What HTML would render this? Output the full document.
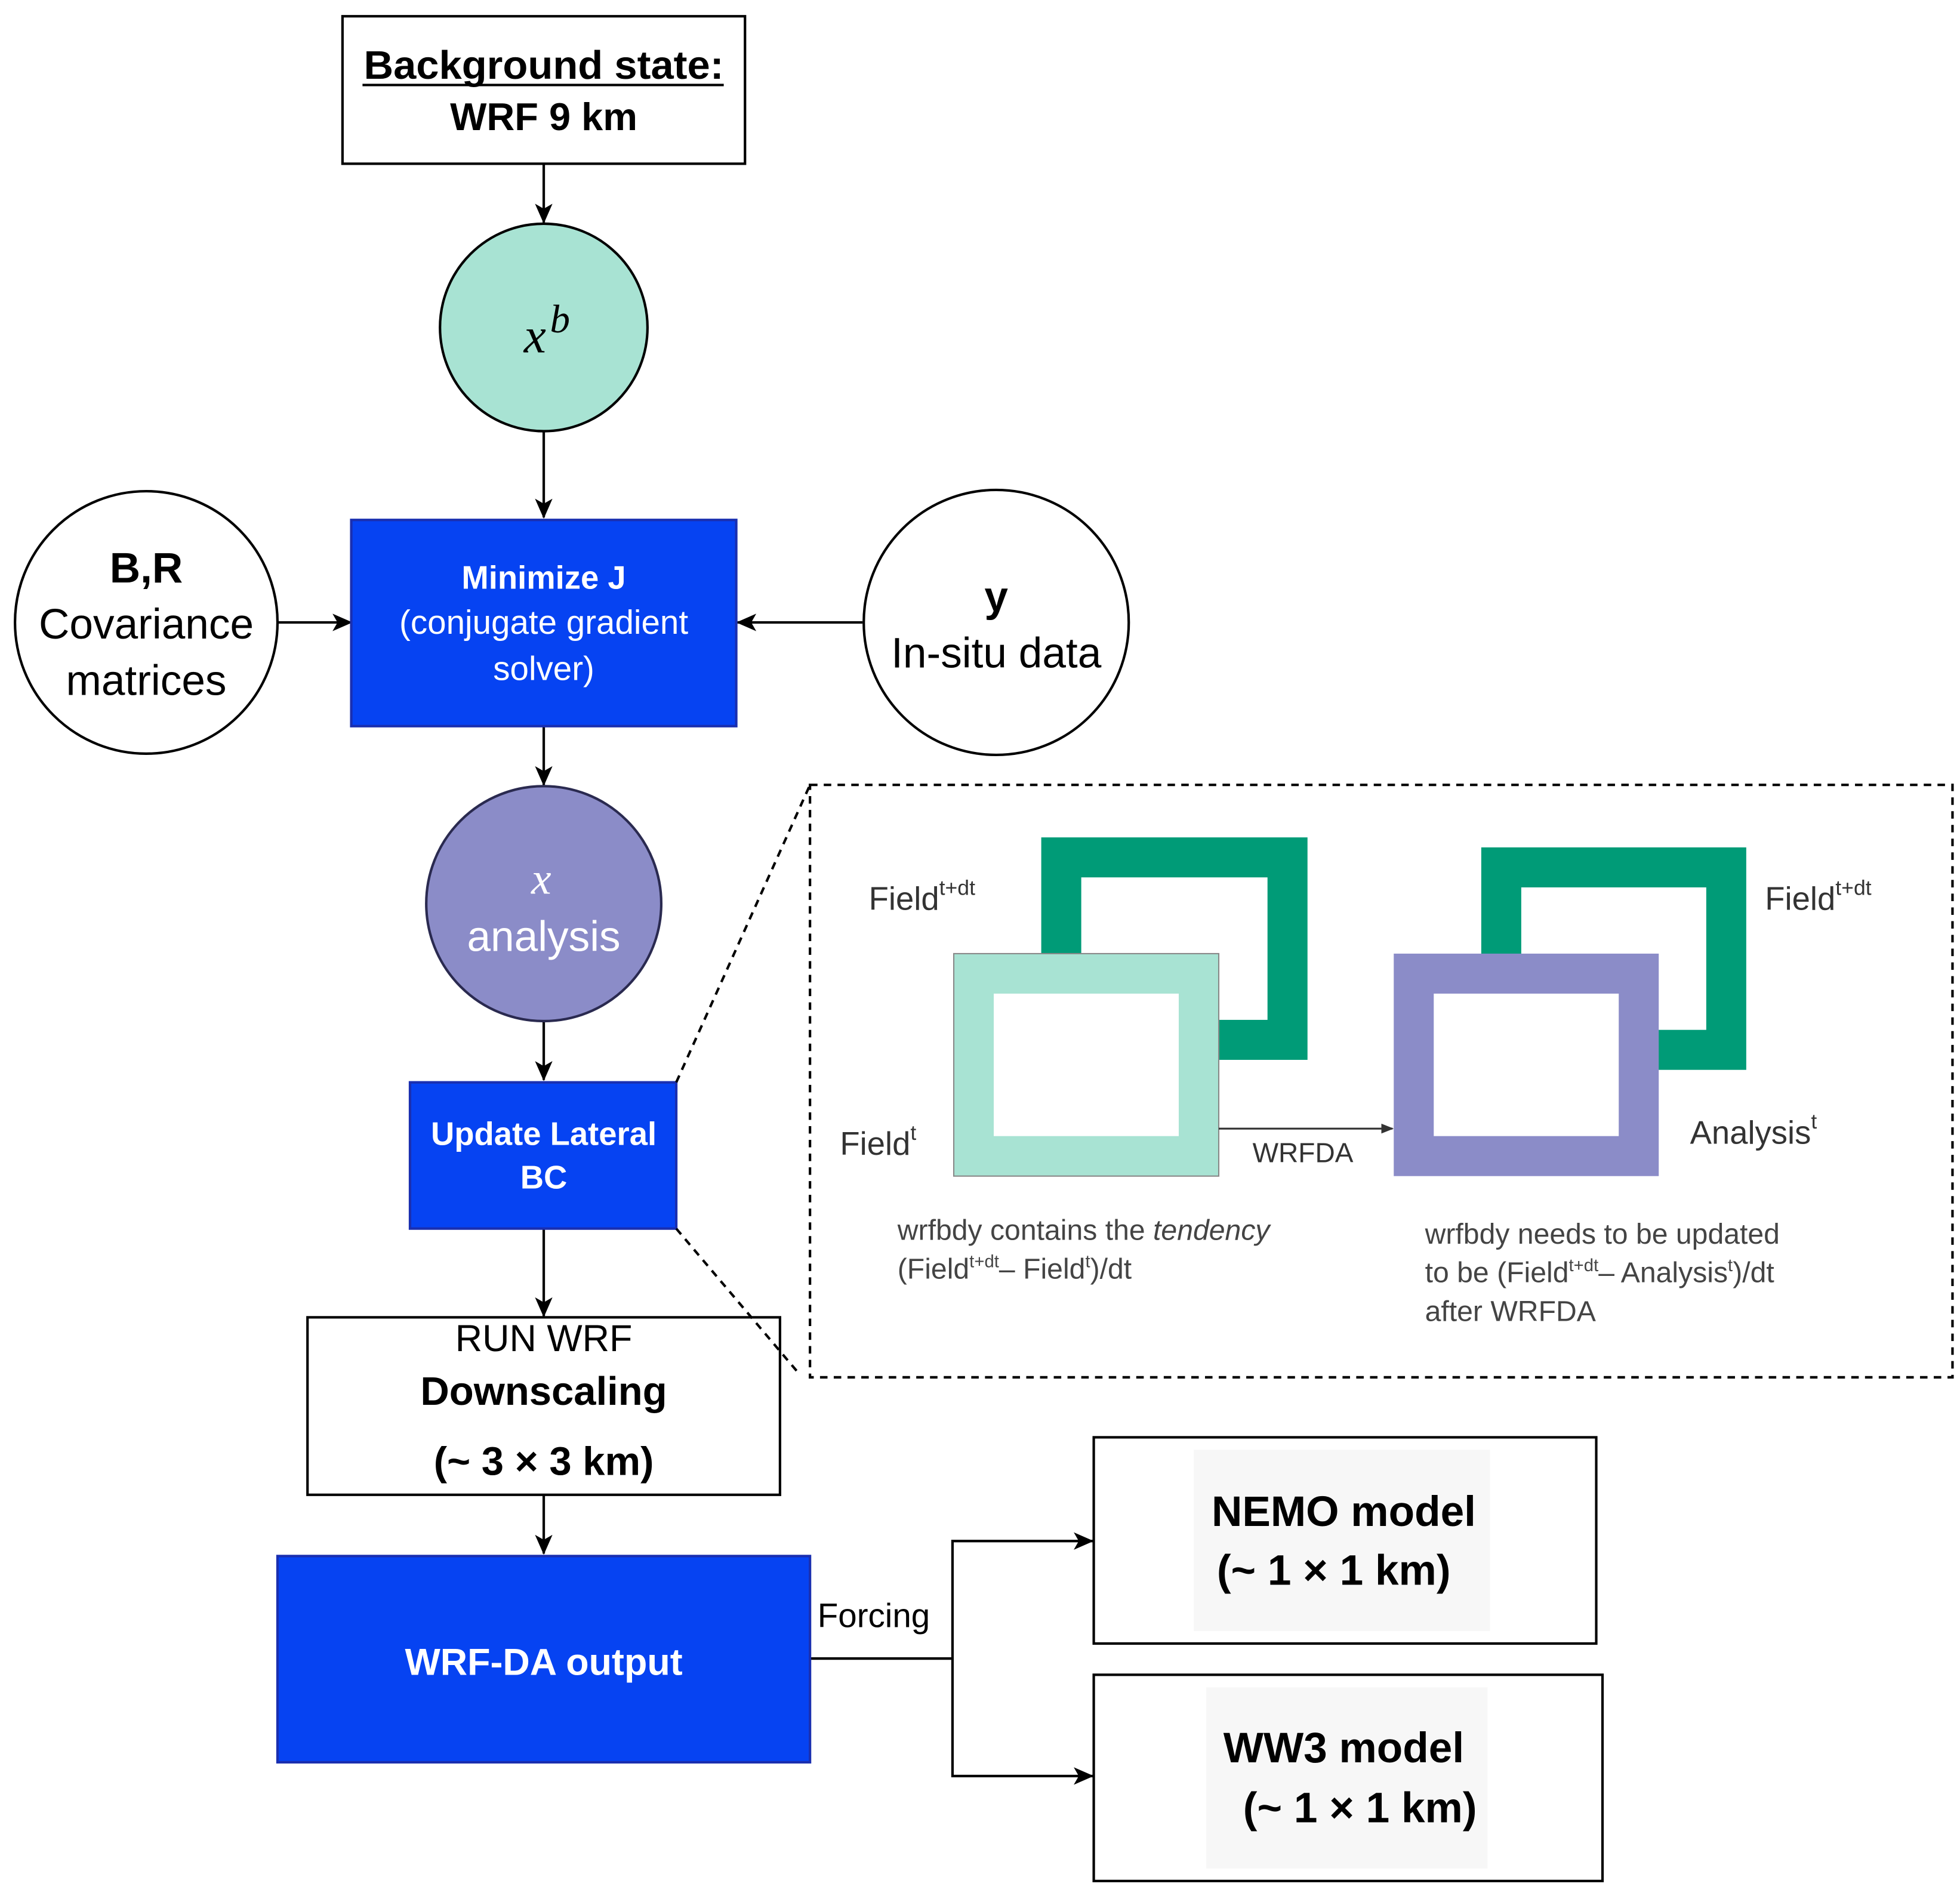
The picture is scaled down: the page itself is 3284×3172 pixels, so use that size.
<!DOCTYPE html>
<html><head><meta charset="utf-8"><style>
html,body{margin:0;padding:0;background:#fff;}
svg{display:block;}
text{font-family:"Liberation Sans",sans-serif;}
</style></head><body>
<svg width="3284" height="3172" viewBox="0 0 1568 1514.6" preserveAspectRatio="none" xmlns="http://www.w3.org/2000/svg">
<defs>
<marker id="ah" markerWidth="16" markerHeight="14" refX="15" refY="7" orient="auto" markerUnits="userSpaceOnUse">
<path d="M0,0 L16,7 L0,14 L4,7 z" fill="#000"/></marker>
<marker id="ah2" markerWidth="10" markerHeight="8" refX="9" refY="4" orient="auto" markerUnits="userSpaceOnUse">
<path d="M0,0 L10,4 L0,8 z" fill="#333"/></marker>
</defs>
<g stroke="#000" stroke-width="2" fill="none">
<line x1="435" y1="131" x2="435" y2="178" marker-end="url(#ah)"/>
<line x1="435" y1="345" x2="435" y2="414" marker-end="url(#ah)"/>
<line x1="222" y1="498" x2="281" y2="498" marker-end="url(#ah)"/>
<line x1="690" y1="498" x2="590" y2="498" marker-end="url(#ah)"/>
<line x1="435" y1="581" x2="435" y2="628" marker-end="url(#ah)"/>
<line x1="435" y1="817" x2="435" y2="864" marker-end="url(#ah)"/>
<line x1="435" y1="983" x2="435" y2="1053" marker-end="url(#ah)"/>
<line x1="435" y1="1196" x2="435" y2="1243" marker-end="url(#ah)"/>
<polyline points="648,1327 762,1327 762,1233 874,1233" marker-end="url(#ah)"/>
<polyline points="762,1327 762,1421 874,1421" marker-end="url(#ah)"/>
</g>
<rect x="274" y="13" width="322" height="118" fill="#fff" stroke="#000" stroke-width="2"/>
<text x="435" y="63" font-size="32" font-weight="bold" text-anchor="middle" textLength="288" lengthAdjust="spacingAndGlyphs">Background state:</text>
<line x1="290" y1="68" x2="579" y2="68" stroke="#000" stroke-width="2"/>
<text x="435" y="104" font-size="31" font-weight="bold" text-anchor="middle">WRF 9 km</text>
<circle cx="435" cy="262" r="83" fill="#a8e3d3" stroke="#000" stroke-width="2"/>
<text x="428" y="282" font-size="40" font-style="italic" text-anchor="middle" style="font-family:'Liberation Serif',serif">x</text>
<text x="440" y="266" font-size="32" font-style="italic" style="font-family:'Liberation Serif',serif">b</text>
<rect x="281" y="416" width="308" height="165" fill="#0643f2" stroke="#1a2fb0" stroke-width="2"/>
<text x="435" y="471" font-size="26" font-weight="bold" fill="#fff" text-anchor="middle">Minimize J</text>
<text x="435" y="507" font-size="27" fill="#fff" text-anchor="middle">(conjugate gradient</text>
<text x="435" y="544" font-size="27" fill="#fff" text-anchor="middle">solver)</text>
<circle cx="117" cy="498" r="105" fill="#fff" stroke="#000" stroke-width="2"/>
<text x="117" y="466" font-size="34" font-weight="bold" text-anchor="middle">B,R</text>
<text x="117" y="511" font-size="34" text-anchor="middle">Covariance</text>
<text x="117" y="556" font-size="34" text-anchor="middle">matrices</text>
<circle cx="797" cy="498" r="106" fill="#fff" stroke="#000" stroke-width="2"/>
<text x="797" y="489" font-size="34" font-weight="bold" text-anchor="middle">y</text>
<text x="797" y="534" font-size="34" text-anchor="middle">In-situ data</text>
<circle cx="435" cy="723" r="94" fill="#8b8cc8" stroke="#2a2a50" stroke-width="2"/>
<text x="433" y="715" font-size="36" font-style="italic" fill="#fff" text-anchor="middle" style="font-family:'Liberation Serif',serif">x</text>
<text x="435" y="761" font-size="34" fill="#fff" text-anchor="middle">analysis</text>
<rect x="328" y="866" width="213" height="117" fill="#0643f2" stroke="#1a2fb0" stroke-width="2"/>
<text x="435" y="916" font-size="26" font-weight="bold" fill="#fff" text-anchor="middle">Update Lateral</text>
<text x="435" y="951" font-size="26" font-weight="bold" fill="#fff" text-anchor="middle">BC</text>
<rect x="246" y="1054" width="378" height="142" fill="#fff" stroke="#000" stroke-width="2"/>
<text x="435" y="1081" font-size="30" text-anchor="middle">RUN WRF</text>
<text x="435" y="1124" font-size="32" font-weight="bold" text-anchor="middle">Downscaling</text>
<text x="435" y="1180" font-size="32" font-weight="bold" text-anchor="middle">(~ 3 × 3 km)</text>
<rect x="222" y="1245" width="426" height="165" fill="#0643f2" stroke="#1a2fb0" stroke-width="2"/>
<text x="435" y="1340" font-size="30" font-weight="bold" fill="#fff" text-anchor="middle">WRF-DA output</text>
<text x="654" y="1302" font-size="27">Forcing</text>
<rect x="875" y="1150" width="402" height="165" fill="#fff" stroke="#000" stroke-width="2"/>
<rect x="955" y="1160" width="237" height="145" fill="#f7f7f7"/>
<text x="1075" y="1221" font-size="34" font-weight="bold" text-anchor="middle">NEMO model</text>
<text x="1067" y="1268" font-size="34" font-weight="bold" text-anchor="middle">(~ 1 × 1 km)</text>
<rect x="875" y="1340" width="407" height="165" fill="#fff" stroke="#000" stroke-width="2"/>
<rect x="965" y="1350" width="225" height="145" fill="#f7f7f7"/>
<text x="1075" y="1410" font-size="34" font-weight="bold" text-anchor="middle">WW3 model</text>
<text x="1088" y="1458" font-size="34" font-weight="bold" text-anchor="middle">(~ 1 × 1 km)</text>
<rect x="648" y="628" width="914" height="474" fill="none" stroke="#000" stroke-width="2" stroke-dasharray="6,5"/>
<line x1="541" y1="866" x2="648" y2="628" stroke="#000" stroke-width="2" stroke-dasharray="6,5"/>
<line x1="541" y1="983" x2="640" y2="1100" stroke="#000" stroke-width="2" stroke-dasharray="6,5"/>
<rect x="849" y="686" width="181" height="146" fill="none" stroke="#009b77" stroke-width="32"/>
<rect x="779" y="779" width="180" height="146" fill="#fff" stroke="#a8e3d3" stroke-width="32"/>
<rect x="763" y="763" width="212" height="178" fill="none" stroke="#888" stroke-width="1"/>
<rect x="1201" y="694" width="180" height="146" fill="none" stroke="#009b77" stroke-width="32"/>
<rect x="1131" y="779" width="180" height="146" fill="#fff" stroke="#8b8cc8" stroke-width="32"/>
<line x1="975" y1="903" x2="1114" y2="903" stroke="#333" stroke-width="1.5" marker-end="url(#ah2)"/>
<g fill="#333" font-size="26">
<text x="695" y="728">Field<tspan font-size="17" dy="-12">t+dt</tspan></text>
<text x="672" y="924">Field<tspan font-size="17" dy="-12">t</tspan></text>
<text x="1412" y="728">Field<tspan font-size="17" dy="-12">t+dt</tspan></text>
<text x="1352" y="915">Analysis<tspan font-size="17" dy="-12">t</tspan></text>
<text x="1002" y="930" font-size="22">WRFDA</text>
</g>
<g fill="#444" font-size="23">
<text x="718" y="992">wrfbdy contains the <tspan font-style="italic">tendency</tspan></text>
<text x="718" y="1023">(Field<tspan font-size="14" dy="-9">t+dt</tspan><tspan dy="9">– Field</tspan><tspan font-size="14" dy="-9">t</tspan><tspan dy="9">)/dt</tspan></text>
<text x="1140" y="995">wrfbdy needs to be updated</text>
<text x="1140" y="1026">to be (Field<tspan font-size="14" dy="-9">t+dt</tspan><tspan dy="9">– Analysis</tspan><tspan font-size="14" dy="-9">t</tspan><tspan dy="9">)/dt</tspan></text>
<text x="1140" y="1057">after WRFDA</text>
</g>
</svg>
</body></html>
